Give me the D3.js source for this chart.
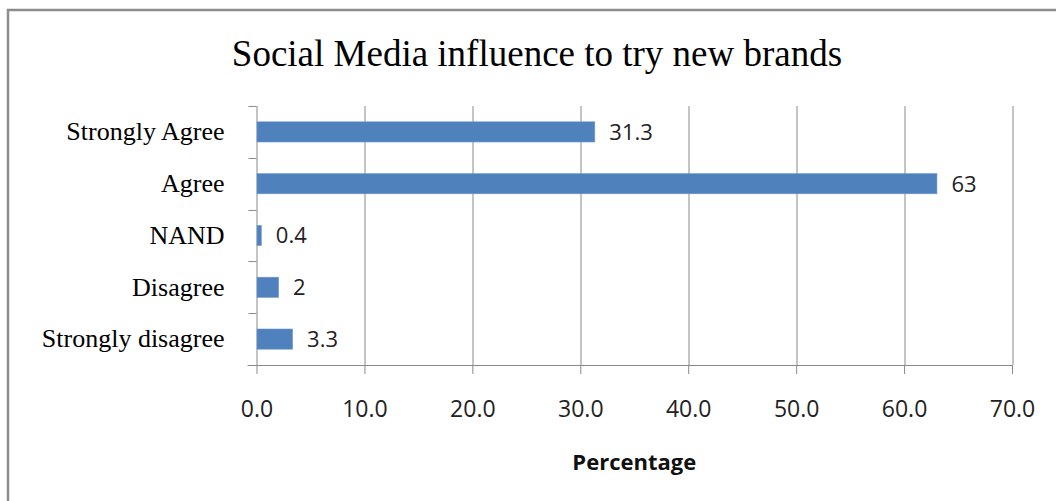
<!DOCTYPE html>
<html>
<head>
<meta charset="utf-8">
<script src="https://cdn.jsdelivr.net/npm/d3@7"></script>
<style>
  body { margin: 0; background: #fff; }
  svg { display: block; }
</style>
</head>
<body>
<div id="chart"></div>
<script>
// chart data
var categories = ["Strongly Agree", "Agree", "NAND", "Disagree", "Strongly disagree"];
var values = [31.3, 63, 0.4, 2, 3.3];
var xTicks = [0, 10, 20, 30, 40, 50, 60, 70];

var svgWidth = 1056;
var svgHeight = 501;

var margin = { top: 106, right: 44, bottom: 136, left: 256.5 };
var chartWidth = 1012 - margin.left;
var chartHeight = 365 - margin.top;

var svg = d3.select("#chart")
  .append("svg")
  .attr("width", svgWidth)
  .attr("height", svgHeight);

// outer chart frame (runs off the right and bottom edges)
svg.append("rect")
  .attr("x", 8)
  .attr("y", 10)
  .attr("width", 1100)
  .attr("height", 600)
  .attr("fill", "#fff")
  .attr("stroke", "#8c8c8c")
  .attr("stroke-width", 2.5);

svg.append("text")
  .attr("x", 537)
  .attr("y", 66)
  .attr("text-anchor", "middle")
  .attr("font-family", "Liberation Serif, Times New Roman, serif")
  .attr("font-size", "37px")
  .attr("fill", "#000")
  .text("Social Media influence to try new brands");

var chartGroup = svg.append("g")
  .attr("transform", `translate(${margin.left}, ${margin.top})`);

var xScale = d3.scaleLinear()
  .domain([0, 70])
  .range([0, chartWidth]);

var yScale = d3.scaleBand()
  .domain(categories)
  .range([0, chartHeight])
  .paddingInner(0.61)
  .paddingOuter(0.305);

// vertical gridlines
chartGroup.selectAll(".grid")
  .data(xTicks.slice(1))
  .enter()
  .append("line")
  .attr("x1", d => Math.round(xScale(d)) + 0.5)
  .attr("x2", d => Math.round(xScale(d)) + 0.5)
  .attr("y1", 0)
  .attr("y2", chartHeight)
  .attr("stroke", "#8a8a8a")
  .attr("stroke-width", 1);

// bottom axis
var bottomAxis = d3.axisBottom(xScale)
  .tickValues(xTicks)
  .tickFormat(d3.format(".1f"))
  .tickSizeInner(9)
  .tickSizeOuter(0)
  .tickPadding(27);

var xAxisG = chartGroup.append("g")
  .attr("transform", `translate(0, ${chartHeight})`)
  .call(bottomAxis);

xAxisG.select(".domain").attr("stroke", "#8a8a8a").attr("d", `M-9,0.5H${chartWidth}`);
xAxisG.selectAll(".tick line").attr("stroke", "#8a8a8a");
xAxisG.selectAll(".tick text")
  .attr("font-family", "Open Sans, sans-serif")
  .attr("font-size", "23px")
  .attr("fill", "#222");

// left axis: category labels
var leftAxis = d3.axisLeft(yScale)
  .tickSize(0)
  .tickPadding(32);

var yAxisG = chartGroup.append("g").call(leftAxis);
yAxisG.select(".domain").attr("stroke", "#8a8a8a").attr("d", `M0.5,0V${chartHeight}`);
yAxisG.selectAll(".tick text")
  .attr("font-family", "Liberation Serif, Times New Roman, serif")
  .attr("font-size", "26px")
  .attr("fill", "#000");

// tick marks on band boundaries
chartGroup.selectAll(".ytick")
  .data(d3.range(categories.length + 1))
  .enter()
  .append("line")
  .attr("x1", -8)
  .attr("x2", 0)
  .attr("y1", d => Math.round(d * yScale.step()) + 0.5)
  .attr("y2", d => Math.round(d * yScale.step()) + 0.5)
  .attr("stroke", "#8a8a8a");

// bars
chartGroup.selectAll(".bar")
  .data(values)
  .enter()
  .append("rect")
  .attr("x", 0.5)
  .attr("y", (d, i) => yScale(categories[i]))
  .attr("width", d => xScale(d))
  .attr("height", yScale.bandwidth())
  .attr("fill", "#4f81bd")
  .attr("stroke", "#6f9ad0")
  .attr("stroke-width", 0.6);

// value labels
chartGroup.selectAll(".label")
  .data(values)
  .enter()
  .append("text")
  .attr("x", d => xScale(d) + 15)
  .attr("y", (d, i) => yScale(categories[i]) + yScale.bandwidth() / 2)
  .attr("dy", "0.36em")
  .attr("font-family", "Open Sans, sans-serif")
  .attr("font-size", "22px")
  .attr("fill", "#222")
  .text(d => d);

// x axis title
chartGroup.append("text")
  .attr("x", chartWidth / 2)
  .attr("y", 470 - margin.top)
  .attr("text-anchor", "middle")
  .attr("font-family", "Open Sans, sans-serif")
  .attr("font-weight", "bold")
  .attr("font-size", "22px")
  .attr("fill", "#111")
  .text("Percentage");
</script>
</body>
</html>
